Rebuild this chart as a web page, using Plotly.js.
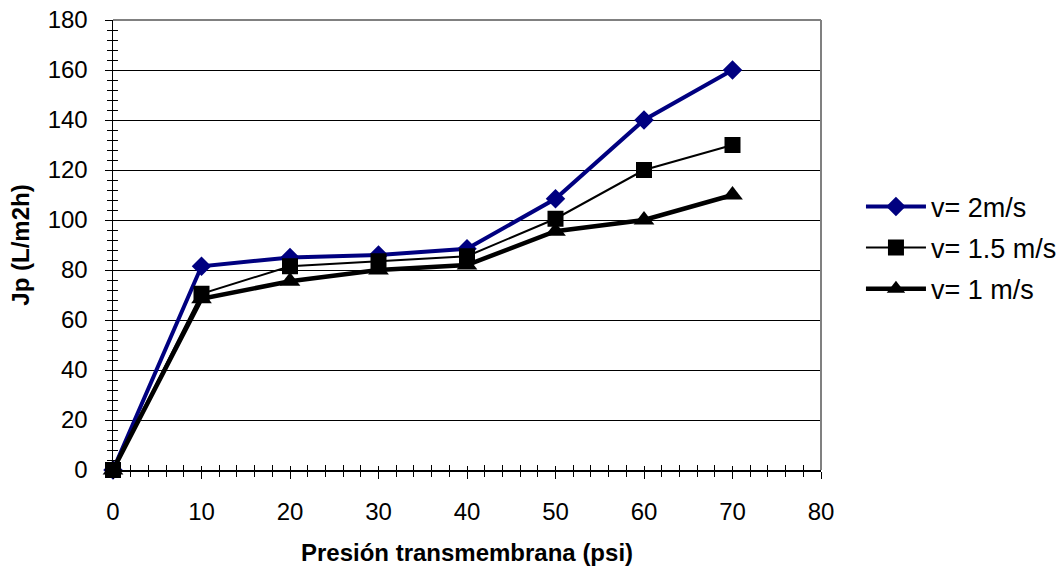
<!DOCTYPE html>
<html>
<head>
<meta charset="utf-8">
<script src="https://cdn.plot.ly/plotly-3.0.1.min.js"></script>
<style>html,body{margin:0;padding:0;background:#fff;}#chart{width:1059px;height:570px;}</style>
</head>
<body>
<div id="chart"></div>
<script>
const presion = [0, 10, 20, 30, 40, 50, 60, 70];
const jp_v2 = [0, 81.5, 85, 86, 88.5, 108.5, 140, 160];
const jp_v15 = [0, 70.5, 81.5, 83.5, 85.5, 100.5, 120, 130];
const jp_v1 = [0, 68.5, 75.5, 80, 82, 95.5, 100, 110];
const seriesNames = ["v= 2m/s", "v= 1.5 m/s", "v= 1 m/s"];
const xTitle = "Presión transmembrana (psi)";
const yTitle = "Jp (L/m2h)";

const font = "Arial, 'Liberation Sans', sans-serif";
const traces = [
  {x: presion, y: jp_v2, name: seriesNames[0], mode: "lines+markers", legendgroup: "a", cliponaxis: false,
   line: {color: "#000080", width: 4}, marker: {symbol: "diamond", size: 15, color: "#000080"}},
  {x: presion, y: jp_v15, name: seriesNames[1], mode: "lines+markers", legendgroup: "b", cliponaxis: false,
   line: {color: "#000000", width: 2}, marker: {symbol: "square", size: 16, color: "#000000"}},
  {x: presion, y: jp_v1, name: seriesNames[2], mode: "lines+markers", legendgroup: "c", cliponaxis: false,
   line: {color: "#000000", width: 4.5}, marker: {symbol: "triangle-up", size: 18, color: "#000000"}}
];

const layout = {
  width: 1059, height: 570,
  margin: {l: 113, r: 238, t: 20, b: 100},
  paper_bgcolor: "#fff", plot_bgcolor: "#fff",
  font: {family: font, size: 24, color: "#000"},
  showlegend: true,
  legend: {xref: "container", yref: "container", x: 0.813, y: 0.565, xanchor: "left", yanchor: "middle",
           font: {family: font, size: 27, color: "#000"},
           itemwidth: 60, tracegroupgap: 3, bgcolor: "rgba(0,0,0,0)"},
  xaxis: {range: [0, 80], dtick: 10, tick0: 0, showgrid: false, zeroline: false,
          showline: true, linecolor: "#000", linewidth: 1.5,
          ticks: "outside", ticklen: 7, tickcolor: "#000", tickwidth: 1,
          minor: {dtick: 2, ticks: "outside", ticklen: 5, tickcolor: "#000"},
          tickfont: {family: font, size: 24}, ticklabelstandoff: 13,
          title: {text: "<b>" + xTitle + "</b>", font: {family: font, size: 24}, standoff: 20}},
  yaxis: {range: [0, 180], dtick: 20, tick0: 0, showgrid: true, gridcolor: "#000", gridwidth: 1, zeroline: false,
          showline: true, linecolor: "#000", linewidth: 1.5,
          ticks: "outside", ticklen: 7, tickcolor: "#000", tickwidth: 1,
          minor: {dtick: 4, ticks: "outside", ticklen: 5, tickcolor: "#000"},
          tickfont: {family: font, size: 24}, ticklabelstandoff: 12,
          title: {text: "<b>" + yTitle + "</b>", font: {family: font, size: 24}, standoff: 11}},
  xaxis2: {overlaying: "x", range: [0, 80], side: "bottom", showgrid: false, zeroline: false, showline: false,
           showticklabels: false, ticks: "inside", ticklen: 4, dtick: 10, tick0: 0, tickcolor: "#000",
           minor: {dtick: 2, ticks: "inside", ticklen: 5, tickcolor: "#000"}},
  yaxis2: {overlaying: "y", range: [0, 180], side: "left", showgrid: false, zeroline: false, showline: false,
           showticklabels: false, ticks: "inside", ticklen: 5, dtick: 20, tick0: 0, tickcolor: "#000",
           minor: {dtick: 4, ticks: "inside", ticklen: 5, tickcolor: "#000"}},
  shapes: [
    {type: "line", xref: "paper", yref: "paper", x0: 0, x1: 1, y0: 1, y1: 1, line: {color: "#808080", width: 2}, layer: "above"},
    {type: "line", xref: "paper", yref: "paper", x0: 1, x1: 1, y0: 0, y1: 1, line: {color: "#808080", width: 2}, layer: "above"}
  ]
};

traces.push({x: [], y: [], xaxis: "x2", yaxis: "y2", showlegend: false, hoverinfo: "skip", mode: "lines"});

Plotly.newPlot("chart", traces, layout, {displayModeBar: false, staticPlot: true});
</script>
</body>
</html>
